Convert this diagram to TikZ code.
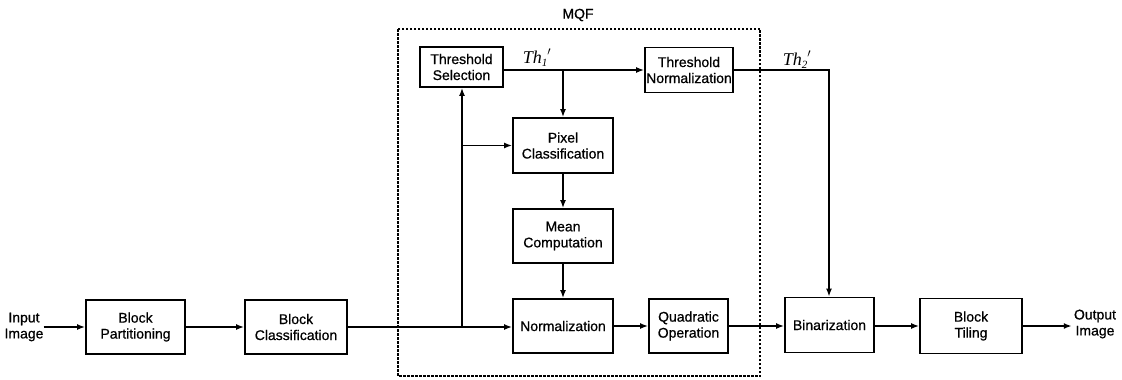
\documentclass[tikz,border=0pt]{standalone}
\usepackage{fontspec}
\setmainfont{Liberation Sans}[BoldFont={Liberation Sans},BoldFeatures={FakeBold=0.7}]
\newfontfamily\tmsfont{Liberation Serif}
\usetikzlibrary{arrows.meta,calc}
\tikzset{
  blk/.style={draw, line width=1.8pt, align=center, inner sep=0pt,
    font=\fontsize{14}{16}\selectfont\bfseries},
  lbl/.style={align=center, inner sep=0pt, font=\fontsize{14}{16}\selectfont\bfseries},
  thl/.style={inner sep=0pt, font=\fontsize{18}{20}\selectfont\tmsfont\itshape},
  conn/.style={line width=1.8pt},
  arr/.style={conn, -{Latex[length=8pt,width=6pt]}},
  mqfbox/.style={line width=1.5pt, dash pattern=on 2.5pt off 1.5pt}
}
\begin{document}
\begin{tikzpicture}[x=1pt,y=-1pt]
\useasboundingbox (0,0) rectangle (1122,380);
% dashed MQF frame
\draw[mqfbox] (398,29) rectangle (760,376);
\node[lbl] (mqf) at (578,15) {MQF};
% blocks
\node[blk, minimum width=99pt, minimum height=54pt] (bp) at (135.5,327) {Block\\Partitioning};
\node[blk, minimum width=102pt, minimum height=54pt] (bc) at (296,327) {Block\\Classification};
\node[blk, minimum width=83pt, minimum height=40pt] (ts) at (461.5,67) {Threshold\\Selection};
\node[blk, minimum width=88pt, minimum height=45pt] (tn) at (689,70) {Threshold\\Normalization};
\node[blk, minimum width=100pt, minimum height=55pt] (pc) at (563,145.5) {Pixel\\Classification};
\node[blk, minimum width=100pt, minimum height=54pt] (mc) at (563,236) {Mean\\Computation};
\node[blk, minimum width=100pt, minimum height=54pt] (no) at (563,326) {Normalization};
\node[blk, minimum width=79pt, minimum height=54pt] (qo) at (688.5,326) {Quadratic\\Operation};
\node[blk, minimum width=89pt, minimum height=55pt] (bi) at (829.5,325) {Binarization};
\node[blk, minimum width=102pt, minimum height=55pt] (bt) at (971,326) {Block\\Tiling};
% terminal labels
\node[lbl] (in) at (24,327) {Input\\Image};
\node[lbl] (out) at (1095,324) {Output\\Image};
% threshold labels
\node[thl] (th1) at (537,58) {Th\raisebox{-0.35ex}{\fontsize{11}{11}\selectfont 1}\raisebox{0.2ex}{$'$}};
\node[thl] (th2) at (797,60) {Th\raisebox{-0.35ex}{\fontsize{11}{11}\selectfont 2}\raisebox{0.2ex}{$'$}};
% coordinates
\coordinate (tsout) at (503,70);
\coordinate (j1) at (563,70);
\coordinate (fb) at (462,327);
\coordinate (fbp) at (462,145.5);
\coordinate (t2c) at (829,70);
% connectors
\draw[arr] (in.east |- bp.west) -- (bp.west);
\draw[arr] (bp.east) -- (bc.west);
\draw[arr] (bc.east) -- (bc.east -| no.west);
\draw[arr] (fb) -- (fb |- ts.south);
\draw[arr] (fbp) -- (pc.west);
\draw[arr] (tsout) -- (tn.west);
\draw[arr] (j1) -- (pc.north);
\draw[arr] (pc.south) -- (mc.north);
\draw[arr] (mc.south) -- (no.north);
\draw[arr] (no.east) -- (qo.west);
\draw[arr] (qo.east) -- (qo.east -| bi.west);
\draw[arr] (tn.east) -- (t2c) -- (t2c |- bi.north);
\draw[arr] (bi.east) -- (bi.east |- bt.west) -- (bt.west);
\draw[arr] (bt.east) -- ([xshift=-2pt]bt.east -| out.west);
\end{tikzpicture}
\end{document}
